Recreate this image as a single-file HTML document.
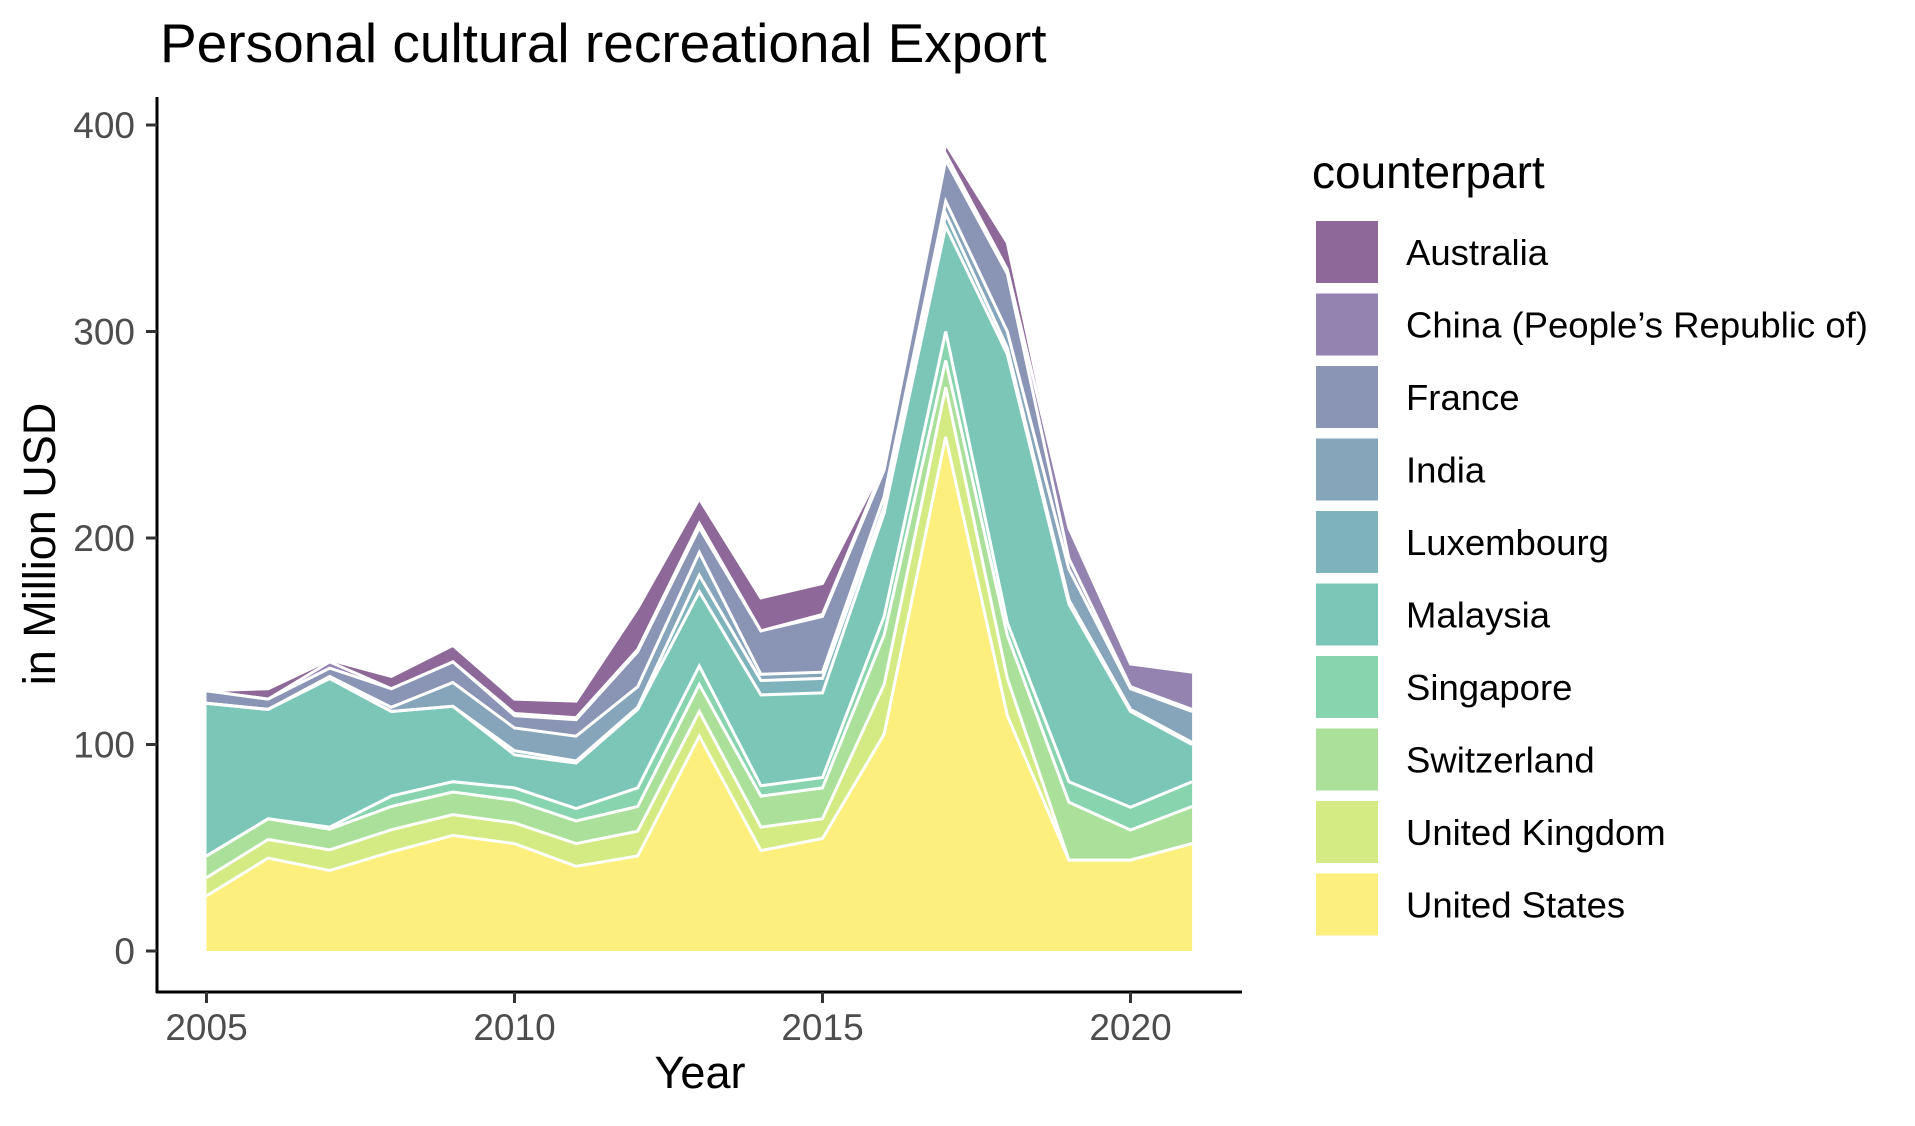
<!DOCTYPE html>
<html><head><meta charset="utf-8"><style>
html,body{margin:0;padding:0;background:#fff;}
svg text{font-family:"Liberation Sans",Arial,sans-serif;}
</style></head><body>
<svg id="chart" width="1915" height="1121" viewBox="0 0 1915 1121" xmlns="http://www.w3.org/2000/svg">
<text x="160" y="62" font-size="55" fill="#000">Personal cultural recreational Export</text>
<g id="plot"></g>
<line x1="157" y1="97" x2="157" y2="993" stroke="#000" stroke-width="3"/>
<line x1="156" y1="992" x2="1242" y2="992" stroke="#000" stroke-width="3"/>
<g id="yticks"></g>
<g id="xticks"></g>
<text x="700" y="1088" font-size="45" text-anchor="middle" fill="#000">Year</text>
<text transform="translate(55,544) rotate(-90)" font-size="45" text-anchor="middle" fill="#000">in Million USD</text>
<text x="1312" y="188" font-size="46" fill="#000">counterpart</text>
<g id="legend"></g>
</svg>
<script>
const years = [2005,2006,2007,2008,2009,2010,2011,2012,2013,2014,2015,2016,2017,2018,2019,2020,2021];
const seriesNames = ["United States","United Kingdom","Switzerland","Singapore","Malaysia","Luxembourg","India","France","China (People\u2019s Republic of)","Australia"];
const usValues = [26.7,45,39,48,56,52,41,46,104,48.6,54.5,105,249,114,44,44,52];
const ukValues = [8.8,9,10,10.7,10,10,11,12,12,11.4,9.5,24,24,18,0,0,0];
const switzerlandValues = [10.5,10,10,11.3,11,11,11,12,13,15,15,24,13,21,28,14.6,18];
const singaporeValues = [0,0,1,5,5,6,6,9,9,5,5,9,14,6,10,11,12];
const malaysiaValues = [74,53,72,41,36.5,16,22,38,36,44,41,50,51,130,86,46.4,18];
const luxembourgValues = [0,0,0,0,0,2,1,1,8,7,7,3,6,3,2,1,1];
const indiaValues = [0,0,1,2,11.5,11,12,10,11,3,3,5,6,8,15,10,15];
const franceValues = [6,5,4,9,10,6,8,17,12,21,27,13,20,28,5,1,1];
const chinaValues = [0,0,3,0,0,1,1,1,2,0,1,2,3,2,15,11,18];
const australiaValues = [0,5,1,6,8,7,8,20,12,16,15,1,5,13,0,1,0];
const yTickValues = [0,100,200,300,400];
const xTickValues = [2005,2010,2015,2020];
const colors = ["#fdef7e","#d4ea83","#abe09a","#88d4ae","#7cc6b8","#7fb3bb","#86a5ba","#8a94b5","#9482b0","#8e6898"];

const allSeries = [usValues,ukValues,switzerlandValues,singaporeValues,malaysiaValues,luxembourgValues,indiaValues,franceValues,chinaValues,australiaValues];
const NS = "http://www.w3.org/2000/svg";
function xScale(yr){ return 206.5 + (yr - 2005) * 61.6; }
function yScale(v){ return 951 - v * 2.065; }

const plot = document.getElementById("plot");
let base = years.map(() => 0);
const tops = [];
allSeries.forEach((vals, si) => {
  const top = base.map((b, i) => b + vals[i]);
  let d = "";
  years.forEach((yr, i) => { d += (i ? "L" : "M") + xScale(yr).toFixed(1) + "," + yScale(top[i]).toFixed(1); });
  for (let i = years.length - 1; i >= 0; i--) d += "L" + xScale(years[i]).toFixed(1) + "," + yScale(base[i]).toFixed(1);
  d += "Z";
  const p = document.createElementNS(NS, "path");
  p.setAttribute("d", d);
  p.setAttribute("fill", colors[si]);
  
  
  plot.appendChild(p);
  tops.push(top);
  base = top;
});
tops.forEach((top, si) => {
  let d = "";
  years.forEach((yr, i) => { d += (i ? "L" : "M") + xScale(yr).toFixed(1) + "," + yScale(top[i]).toFixed(1); });
  const l = document.createElementNS(NS, "path");
  l.setAttribute("d", d);
  l.setAttribute("fill", "none");
  l.setAttribute("stroke", "#fff");
  l.setAttribute("stroke-width", "3");
  
  
  plot.appendChild(l);
});

const yt = document.getElementById("yticks");
yTickValues.forEach(v => {
  const y = yScale(v);
  const t = document.createElementNS(NS, "line");
  t.setAttribute("x1", 146); t.setAttribute("x2", 157); t.setAttribute("y1", y); t.setAttribute("y2", y);
  t.setAttribute("stroke", "#333"); t.setAttribute("stroke-width", "3");
  
  
  yt.appendChild(t);
  const tx = document.createElementNS(NS, "text");
  tx.setAttribute("x", 135); tx.setAttribute("y", y + 13);
  tx.setAttribute("font-size", "37"); tx.setAttribute("fill", "#4d4d4d"); tx.setAttribute("text-anchor", "end");
  tx.textContent = v;
  
  
  yt.appendChild(tx);
});
const xt = document.getElementById("xticks");
xTickValues.forEach(v => {
  const x = xScale(v);
  const t = document.createElementNS(NS, "line");
  t.setAttribute("x1", x); t.setAttribute("x2", x); t.setAttribute("y1", 992); t.setAttribute("y2", 1003);
  t.setAttribute("stroke", "#333"); t.setAttribute("stroke-width", "3");
  
  
  xt.appendChild(t);
  const tx = document.createElementNS(NS, "text");
  tx.setAttribute("x", x); tx.setAttribute("y", 1040);
  tx.setAttribute("font-size", "37"); tx.setAttribute("fill", "#4d4d4d"); tx.setAttribute("text-anchor", "middle");
  tx.textContent = v;
  
  
  xt.appendChild(tx);
});

const lg = document.getElementById("legend");
for (let k = 0; k < seriesNames.length; k++) {
  const si = seriesNames.length - 1 - k;
  const y0 = 221 + k * 72.5;
  const r = document.createElementNS(NS, "rect");
  r.setAttribute("x", 1316); r.setAttribute("y", y0); r.setAttribute("width", 62); r.setAttribute("height", 62);
  r.setAttribute("fill", colors[si]);
  
  
  lg.appendChild(r);
  const tx = document.createElementNS(NS, "text");
  tx.setAttribute("x", 1406); tx.setAttribute("y", y0 + 44);
  tx.setAttribute("font-size", "36.5"); tx.setAttribute("fill", "#000");
  tx.textContent = seriesNames[si];
  
  
  lg.appendChild(tx);
}
</script>
</body></html>
